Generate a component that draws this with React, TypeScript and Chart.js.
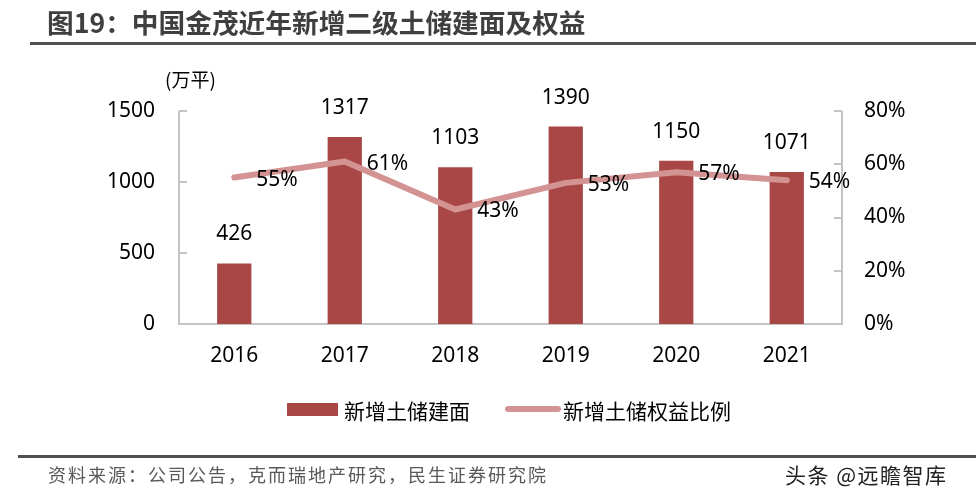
import React, { useEffect, useRef } from "react";
import { Chart, registerables } from "chart.js";

Chart.register(...registerables);

const categories = ["2016", "2017", "2018", "2019", "2020", "2021"];
const areaValues = [426, 1317, 1103, 1390, 1150, 1071];
const equityRatio = [55, 61, 43, 53, 57, 54];
const leftTicks = [0, 500, 1000, 1500];
const rightTicks = [0, 20, 40, 60, 80];

const BAR_COLOR = "#A84745";
const LINE_COLOR = "#D49393";
const AXIS_COLOR = "#C4C4C4";
const FONT = '"Noto Sans", "Noto Sans CJK SC", sans-serif';
const CJK = '"Noto Sans CJK SC", "Noto Sans", sans-serif';

const axisPlugin = {
  id: "axisPlugin",
  beforeDatasetsDraw(chart: any) {
    const { ctx, chartArea, scales } = chart;
    ctx.save();
    ctx.strokeStyle = AXIS_COLOR;
    ctx.lineWidth = 2;
    ctx.beginPath();
    ctx.moveTo(chartArea.left, chartArea.top);
    ctx.lineTo(chartArea.left, chartArea.bottom);
    ctx.lineTo(chartArea.right, chartArea.bottom);
    ctx.lineTo(chartArea.right, chartArea.top);
    for (const v of leftTicks) {
      const y = Math.round(scales.y.getPixelForValue(v));
      ctx.moveTo(chartArea.left, y);
      ctx.lineTo(chartArea.left + 8, y);
    }
    for (const v of rightTicks) {
      const y = Math.round(scales.y1.getPixelForValue(v));
      ctx.moveTo(chartArea.right, y);
      ctx.lineTo(chartArea.right - 8, y);
    }
    ctx.stroke();
    ctx.restore();
  },
  afterDatasetsDraw(chart: any) {
    const { ctx } = chart;
    ctx.save();
    ctx.font = `21px ${FONT}`;
    ctx.fillStyle = "#000";
    const lineMeta = chart.getDatasetMeta(0);
    const barMeta = chart.getDatasetMeta(1);
    ctx.textAlign = "center";
    ctx.textBaseline = "middle";
    barMeta.data.forEach((el: any, i: number) => {
      ctx.fillText(String(areaValues[i]), el.x, el.y - 29);
    });
    ctx.textAlign = "left";
    lineMeta.data.forEach((el: any, i: number) => {
      ctx.fillText(equityRatio[i] + "%", el.x + 22, el.y + 2);
    });
    ctx.restore();
  },
};

export default function App() {
  const ref = useRef<HTMLCanvasElement>(null);
  useEffect(() => {
    if (!ref.current) return;
    const chart = new Chart(ref.current, {
      type: "bar",
      data: {
        labels: categories,
        datasets: [
          {
            type: "line",
            label: "新增土储权益比例",
            data: equityRatio,
            yAxisID: "y1",
            borderColor: LINE_COLOR,
            backgroundColor: LINE_COLOR,
            borderWidth: 6,
            pointRadius: 0,
            borderCapStyle: "round",
            borderJoinStyle: "round",
            tension: 0,
            order: 0,
          } as any,
          {
            type: "bar",
            label: "新增土储建面",
            data: areaValues,
            yAxisID: "y",
            backgroundColor: BAR_COLOR,
            barPercentage: 1,
            categoryPercentage: 0.31,
            order: 1,
          },
        ],
      },
      options: {
        responsive: false,
        animation: false,
        layout: { padding: { top: 111, left: 0, right: 0, bottom: 0 } },
        plugins: {
          legend: { display: false },
          tooltip: { enabled: false },
          title: { display: false },
        },
        scales: {
          x: {
            grid: { display: false, drawTicks: false },
            border: { display: false },
            ticks: { color: "#000", font: { size: 21, family: FONT }, padding: 19, maxRotation: 0 },
            afterFit: (s: any) => {
              s.height = 177;
            },
          },
          y: {
            position: "left",
            min: 0,
            max: 1500,
            grid: { display: false, drawTicks: false },
            border: { display: false },
            ticks: {
              stepSize: 500,
              color: "#000",
              font: { size: 21, family: FONT },
              padding: 24,
              callback: (v: any) => String(v),
            },
            afterFit: (s: any) => {
              s.width = 179;
            },
          },
          y1: {
            position: "right",
            min: 0,
            max: 80,
            grid: { display: false, drawTicks: false },
            border: { display: false },
            ticks: {
              stepSize: 20,
              color: "#000",
              font: { size: 21, family: FONT },
              padding: 22,
              callback: (v: any) => v + "%",
            },
            afterFit: (s: any) => {
              s.width = 134;
            },
          },
        },
      },
      plugins: [axisPlugin],
    });
    return () => chart.destroy();
  }, []);

  const abs = (s: React.CSSProperties): React.CSSProperties => ({ position: "absolute", margin: 0, ...s });

  return (
    <div style={{ position: "absolute", left: 0, top: 0, width: 976, height: 501, background: "#fff", overflow: "hidden" }}>
      <canvas ref={ref} width={976} height={501} style={{ position: "absolute", left: 0, top: 0 }} />
      <div
        style={abs({
          left: 47,
          top: 6,
          fontFamily: CJK,
          fontWeight: 700,
          fontSize: 26.7,
          lineHeight: "32px",
          color: "#3F3F3F",
          whiteSpace: "nowrap",
        })}
      >
        图19：中国金茂近年新增二级土储建面及权益
      </div>
      <div style={abs({ left: 30, top: 42, width: 946, height: 3, background: "#505050" })} />
      <div style={abs({ left: 165, top: 66, fontFamily: CJK, fontSize: 19, lineHeight: "26px", color: "#000" })}>(万平)</div>
      <div style={abs({ left: 287, top: 403, width: 51, height: 13, background: BAR_COLOR })} />
      <div style={abs({ left: 344, top: 396, fontFamily: CJK, fontSize: 21, lineHeight: "28px", color: "#000", whiteSpace: "nowrap" })}>
        新增土储建面
      </div>
      <div style={abs({ left: 505, top: 406, width: 56, height: 6, borderRadius: 3, background: LINE_COLOR })} />
      <div style={abs({ left: 563, top: 396, fontFamily: CJK, fontSize: 21, lineHeight: "28px", color: "#000", whiteSpace: "nowrap" })}>
        新增土储权益比例
      </div>
      <div style={abs({ left: 18, top: 455, width: 958, height: 3, background: "#505050" })} />
      <div
        style={abs({
          left: 48,
          top: 462,
          fontFamily: CJK,
          fontSize: 18,
          lineHeight: "24px",
          letterSpacing: 2,
          color: "#595959",
          whiteSpace: "nowrap",
        })}
      >
        资料来源：公司公告，克而瑞地产研究，民生证券研究院
      </div>
      <div
        style={abs({
          left: 785,
          top: 461,
          fontFamily: CJK,
          fontSize: 21,
          lineHeight: "26px",
          letterSpacing: 1.5,
          color: "#222",
          whiteSpace: "nowrap",
        })}
      >
        头条 @远瞻智库
      </div>
    </div>
  );
}
